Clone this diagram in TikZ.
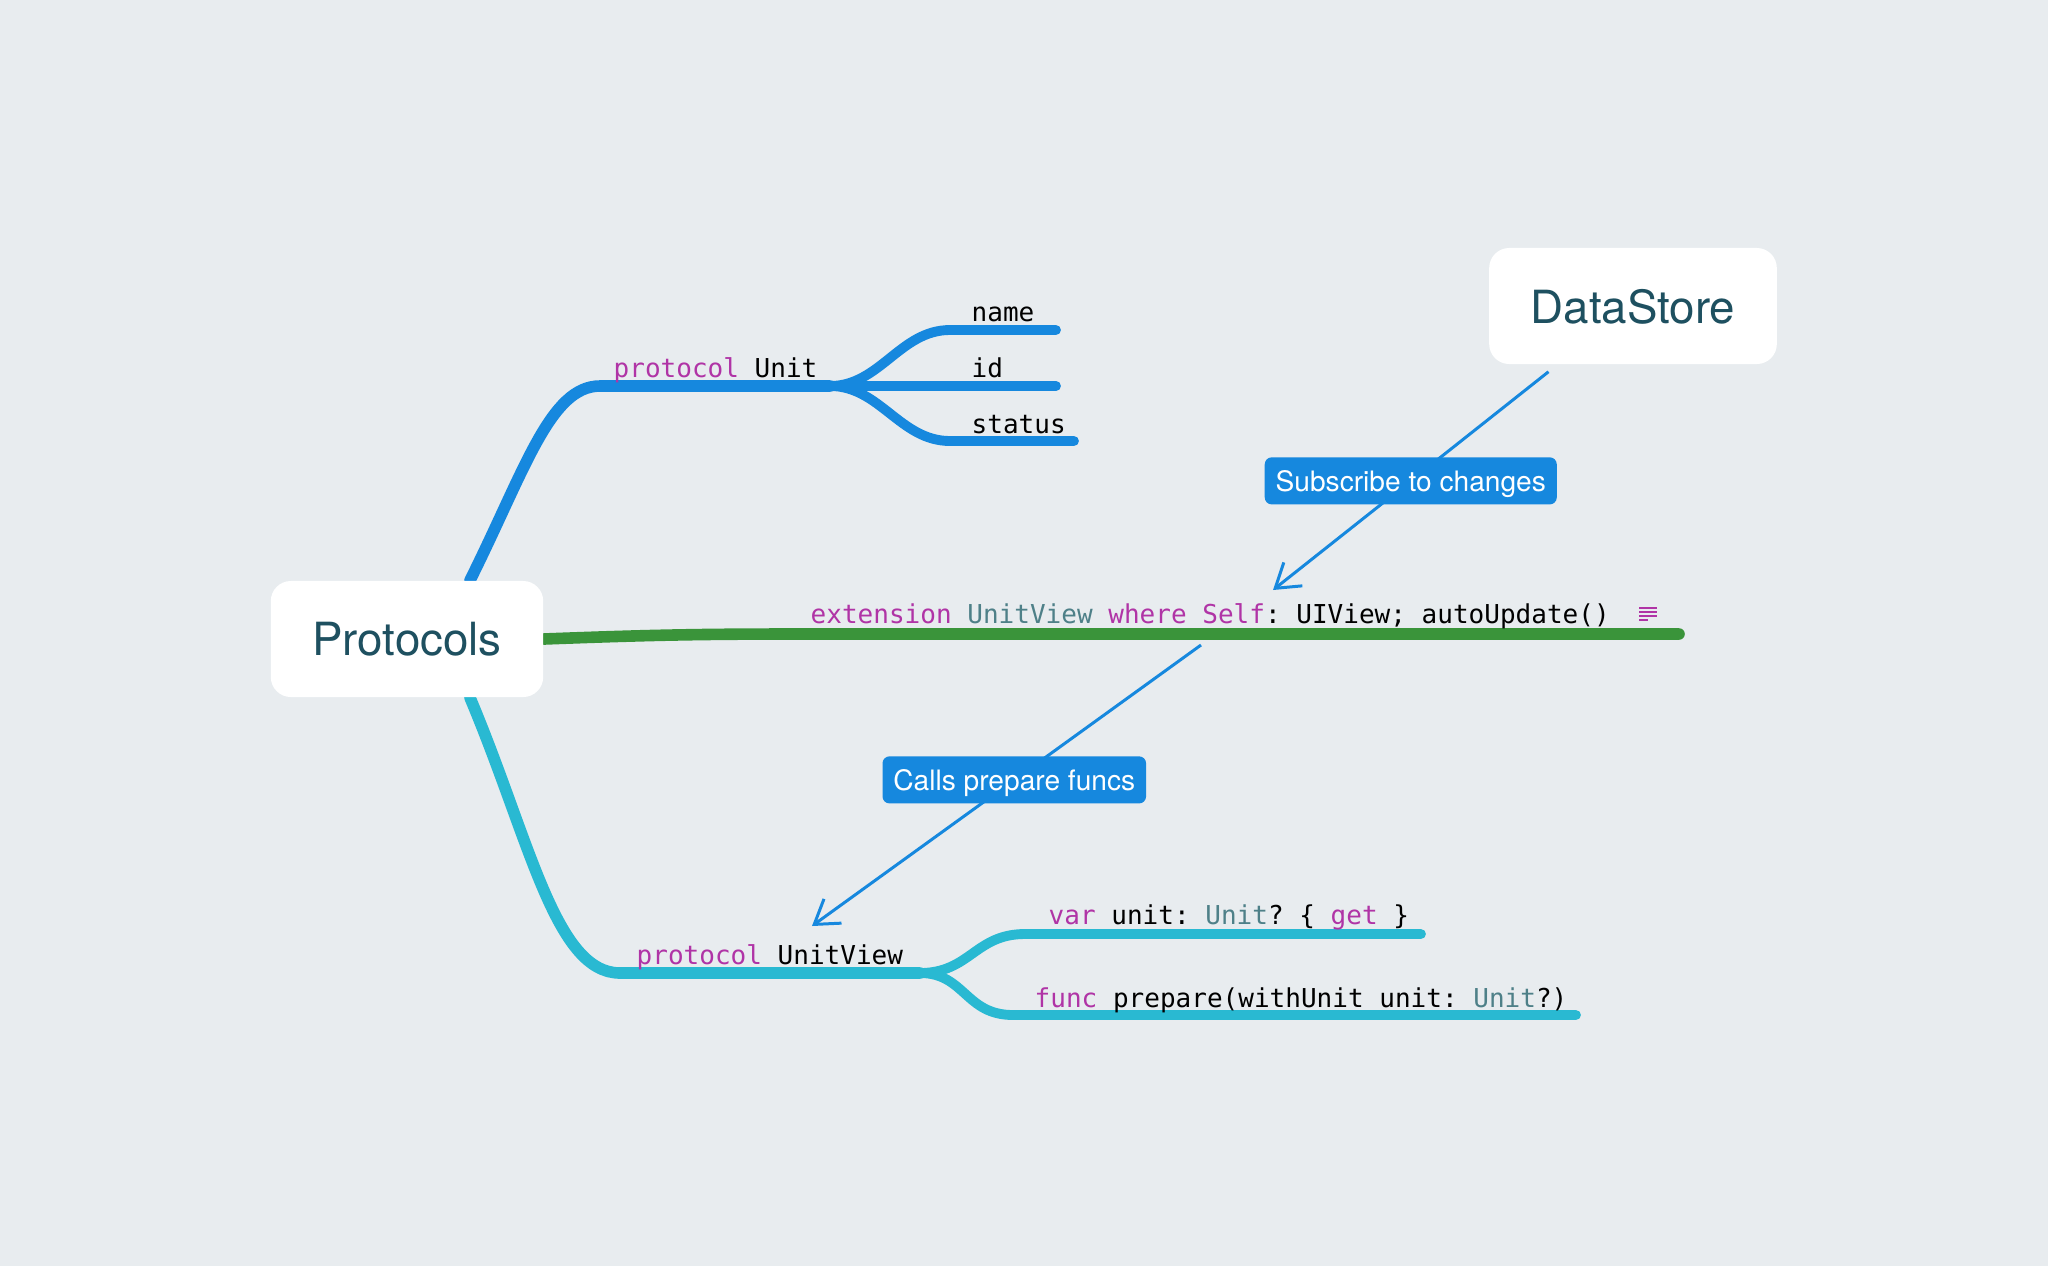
\documentclass[tikz,border=0pt]{standalone}
\usepackage{fontspec}
\setmainfont{TeX Gyre Heros}
\setmonofont{DejaVu Sans Mono}
\usetikzlibrary{arrows.meta,backgrounds}
\definecolor{bgcol}{RGB}{232,236,239}
\definecolor{boxtext}{RGB}{30,80,96}
\definecolor{unitblue}{RGB}{22,136,222}
\definecolor{extgreen}{RGB}{58,148,58}
\definecolor{viewcyan}{RGB}{41,185,210}
\definecolor{kwcol}{RGB}{176,52,166}
\definecolor{tycol}{RGB}{78,128,136}
\newcommand\kwd[1]{\textcolor{kwcol}{#1}}
\newcommand\tname[1]{\textcolor{tycol}{#1}}
\begin{document}
\begin{tikzpicture}[x=0.01cm,y=-0.01cm,
    mainbox/.style={fill=white, rounded corners=5.7pt, minimum height=33pt,
      inner xsep=11.8pt, text depth=0pt, text=boxtext,
      font=\fontsize{13pt}{15pt}\selectfont},
    notetag/.style={fill=unitblue, text=white, rounded corners=2pt,
      minimum height=13.4pt, inner xsep=3.1pt, inner ysep=0pt, text depth=0pt,
      font=\fontsize{8pt}{10pt}\selectfont},
    codetext/.style={anchor=base west, inner sep=0pt,
      font=\ttfamily\fontsize{7.4pt}{9pt}\selectfont},
    branch/.style={line width=3.3pt, line cap=round},
    twig/.style={line width=2.8pt, line cap=round},
    linkarrow/.style={draw=unitblue, line width=0.85pt,
      -{Straight Barb[length=6.5pt,width=8.5pt]}}]
  \useasboundingbox (0,0) rectangle (2048,1266);

  % the two boxes
  \node[mainbox] (protocols) at (407,639) {Protocols};
  \node[mainbox] (datastore) at (1633,306) {DataStore};

  % code on the branches
  \node[codetext] (unit) at (613,377) {\kwd{protocol} Unit};
  \node[codetext] (name) at (971,321) {name};
  \node[codetext] (id) at (971,377) {id};
  \node[codetext] (status) at (971,433) {status};
  \node[codetext] (ext) at (810,623)
    {\kwd{extension} \tname{UnitView} \kwd{where} \kwd{Self}: UIView; autoUpdate()};
  \node[codetext] (view) at (636,964) {\kwd{protocol} UnitView};
  \node[codetext] (var) at (1048,924) {\kwd{var} unit: \tname{Unit}? \{ \kwd{get} \}};
  \node[codetext] (func) at (1034,1007)
    {\kwd{func} prepare(withUnit unit: \tname{Unit}?)};

  % note icon
  \foreach \y/\len in {608/18,612/18,616/18,620/9}
    \draw[kwcol, line width=0.6pt] (1639,\y) -- +(\len,0);

  \begin{scope}[on background layer]
    \fill[bgcol] (0,0) rectangle (2048,1266);
    \coordinate (unitfork) at (830,386);
    \coordinate (viewfork) at (920,973);

    % protocol Unit
    \draw[branch, unitblue] ([xshift=0.63cm]protocols.north)
      .. controls (525,470) and (550,386) .. (600,386) -- (unitfork);
    \draw[twig, unitblue] (unitfork) .. controls (880,386) and (900,330) .. (950,330) -- (1056,330);
    \draw[twig, unitblue] (unitfork) -- (1056,386);
    \draw[twig, unitblue] (unitfork) .. controls (880,386) and (900,441) .. (950,441) -- (1074,441);

    % extension
    \draw[branch, extgreen] (protocols.east)
      .. controls (650,635) and (700,634) .. (800,634) -- (1679,634);

    % protocol UnitView
    \draw[branch, viewcyan] ([xshift=0.63cm]protocols.south)
      .. controls (530,840) and (555,973) .. (620,973) -- (viewfork);
    \draw[twig, viewcyan] (viewfork) .. controls (970,973) and (975,934) .. (1025,934) -- (1421,934);
    \draw[twig, viewcyan] (viewfork) .. controls (965,973) and (965,1015) .. (1013,1015) -- (1576,1015);
  \end{scope}

  % arrows
  \coordinate (subtip) at (1273,590);
  \coordinate (callstart) at (1201,645);
  \coordinate (calltip) at (812,926);
  \draw[linkarrow] ([xshift=0.6cm,yshift=-0.07cm]datastore.south west)
    -- node[notetag] (subtag) {Subscribe to changes} (subtip);
  \draw[linkarrow] (callstart)
    -- node[notetag, pos=0.48] (calltag) {Calls prepare funcs} (calltip);
\end{tikzpicture}
\end{document}
